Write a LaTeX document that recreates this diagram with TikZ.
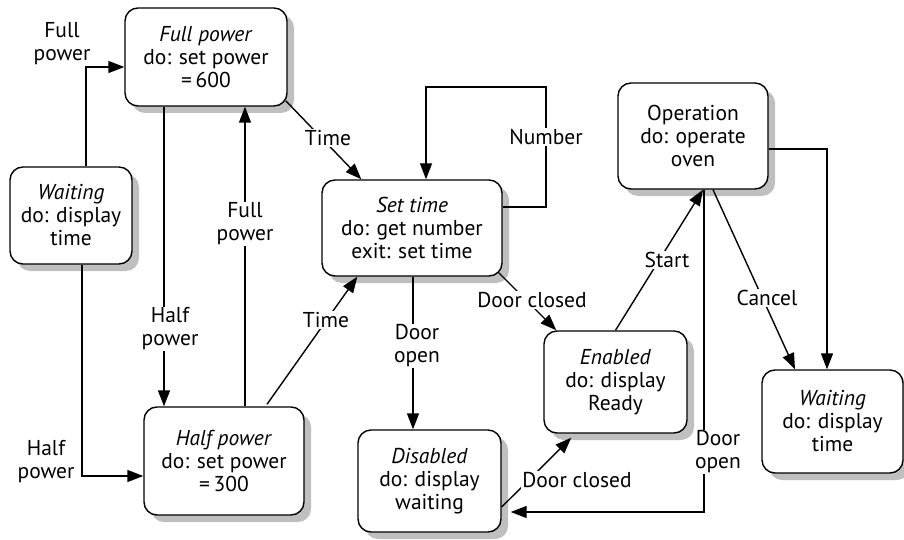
\documentclass[tikz,border=0pt]{standalone}
\usepackage{fontspec}
\setmainfont{PT Sans}
\usetikzlibrary{arrows.meta,shadows}
\begin{document}
\begin{tikzpicture}[x=1pt,y=-1pt,
  font=\fontsize{21.5}{23}\selectfont,
  state/.style={draw,line width=1.4pt,rounded corners=13pt,fill=white,
    align=center,inner sep=0pt,
    drop shadow={shadow xshift=7pt,shadow yshift=-7pt,fill=black!25,opacity=1}},
  arr/.style={line width=1.4pt,-{Triangle[length=16pt,width=12pt]}},
  lbl/.style={fill=white,inner sep=1pt,align=center}]
\useasboundingbox (0,0) rectangle (904,540);

% states
\node[state,minimum width=162pt,minimum height=98pt] (full) at (206,57)
  {\textit{Full power}\\do: set power\\=\,600};
\node[state,minimum width=122pt,minimum height=97pt] (waitL) at (71,215.5)
  {\textit{Waiting}\\do: display\\time};
\node[state,minimum width=160pt,minimum height=108pt] (half) at (224,461)
  {\textit{Half power}\\do: set power\\=\,300};
\node[state,minimum width=180pt,minimum height=96pt] (set) at (412,228)
  {\textit{Set time}\\do: get number\\exit: set time};
\node[state,minimum width=143pt,minimum height=102pt] (dis) at (429.5,481)
  {\textit{Disabled}\\do: display\\waiting};
\node[state,minimum width=143pt,minimum height=102pt] (en) at (615.5,382)
  {\textit{Enabled}\\do: display\\Ready};
\node[state,minimum width=150pt,minimum height=106pt] (op) at (693,136)
  {Operation\\do: operate\\oven};
\node[state,minimum width=141pt,minimum height=103pt] (waitR) at (832.5,421.5)
  {\textit{Waiting}\\do: display\\time};

\coordinate (loop) at (546,87);

% transitions
\draw[arr] ([xshift=15pt]waitL.north) |- ([yshift=-10pt]full.west);
\node[lbl] (l1) at (62,44) {Full\\power};

\draw[arr] ([xshift=11pt]waitL.south) |- ([yshift=-15pt]half.west);
\node[lbl] (l2) at (46,462) {Half\\power};

\draw[arr] ([xshift=-42pt]full.south) -- ([xshift=-42pt]full.south |- half.north);
\node[lbl] (l3) at (170,329) {Half\\power};

\draw[arr] ([xshift=21pt]half.north) -- ([xshift=21pt]half.north |- full.south);
\node[lbl] (l4) at (245,224) {Full\\power};

\draw[arr] ([xshift=-2pt,yshift=6pt]full.south east) -- ([xshift=40pt]set.north west);
\node[lbl] (l5) at (328,138) {Time};

\draw[arr] ([xshift=43pt,yshift=2pt]half.north) -- ([xshift=36pt]set.south west);
\node[lbl] (l6) at (326,320) {Time};

\draw[arr] ([yshift=21pt]set.east) -| (loop) -| ([xshift=14pt]set.north);
\node[lbl] (l7) at (546,137) {Number};

\draw[arr] ([xshift=1pt]set.south) -- ([xshift=1pt]set.south |- dis.north);
\node[lbl] (l8) at (417,346) {Door\\open};

\draw[arr] ([xshift=-4pt,yshift=4pt]set.south east) -- ([xshift=13pt]en.north west);
\node[lbl] (l9) at (532,300) {Door closed};

\draw[arr] ([yshift=-26pt]dis.east) -- ([xshift=28pt,yshift=-4pt]en.south west);
\node[lbl] (l10) at (577,480) {Door closed};

\draw[arr] (en.north) -- ([xshift=10pt]op.south);
\node[lbl] (l11) at (667,260) {Start};

\draw[arr] ([xshift=11pt]op.south) |- ([xshift=9pt,yshift=-31pt]dis.east);
\node[lbl] (l12) at (718,452) {Door\\open};

\draw[arr] ([xshift=20pt]op.south) -- ([xshift=-37.5pt]waitR.north);
\node[lbl] (l13) at (767,298) {Cancel};

\draw[arr] ([yshift=-13pt]op.east) -| ([xshift=-5.5pt]waitR.north);
\end{tikzpicture}
\end{document}
